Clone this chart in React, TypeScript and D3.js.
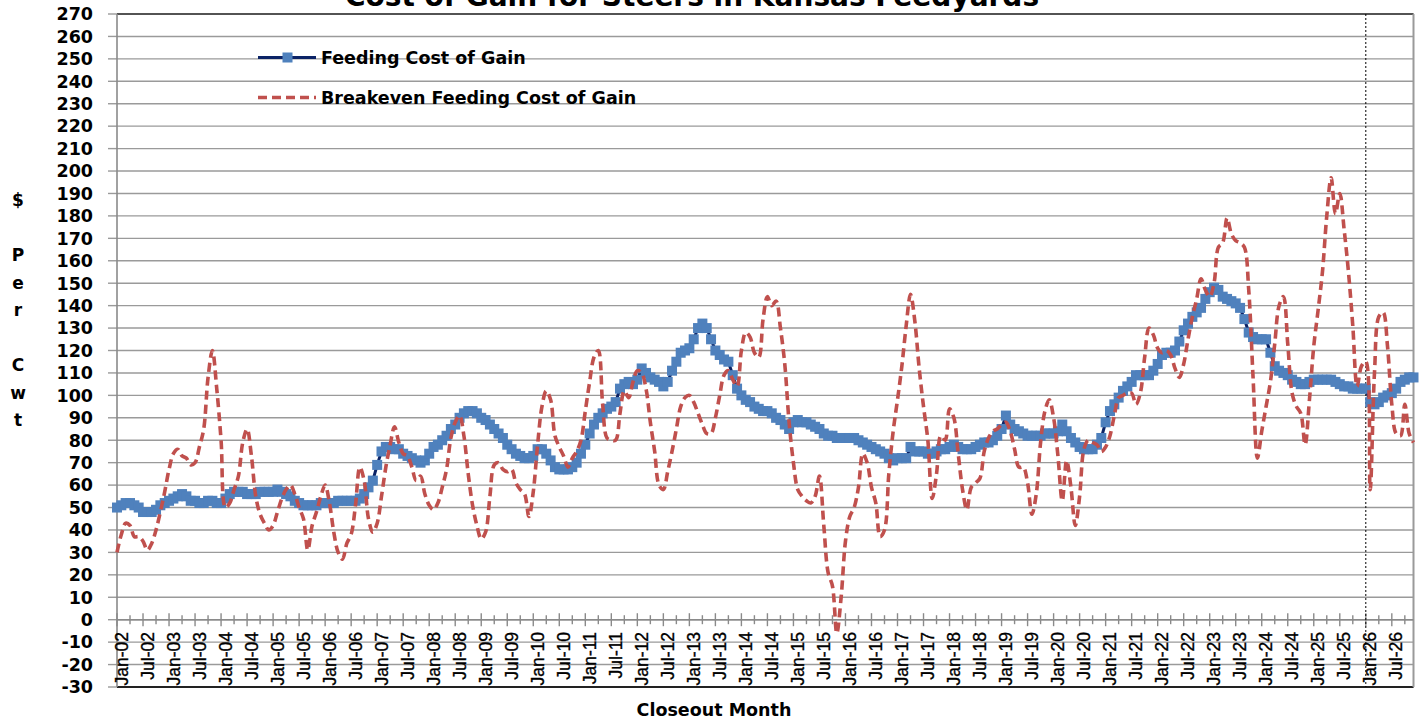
import React from "react";
import * as d3 from "d3";

// Monthly values, Jan-02 .. Dec-26 (one row per year)
const YEARS = [2002, 2003, 2004, 2005, 2006, 2007, 2008, 2009, 2010, 2011, 2012, 2013, 2014, 2015, 2016, 2017, 2018, 2019, 2020, 2021, 2022, 2023, 2024, 2025, 2026];

const FEEDING_COST: number[][] = [
  [50, 51, 52, 52, 51, 50, 48, 48, 48, 49, 51, 52],
  [53, 54, 55, 56, 55, 53, 53, 52, 52, 53, 53, 52],
  [52, 54, 56, 57, 57, 57, 56, 56, 56, 57, 57, 57],
  [57, 58, 57, 56, 55, 53, 52, 51, 51, 51, 51, 52],
  [52, 52, 52, 53, 53, 53, 53, 53, 54, 56, 59, 62],
  [69, 75, 77, 77, 76, 76, 74, 73, 72, 71, 70, 71],
  [74, 77, 78, 80, 82, 85, 87, 90, 92, 93, 93, 92],
  [90, 89, 87, 85, 83, 81, 78, 76, 74, 73, 72, 72],
  [73, 76, 76, 74, 71, 68, 67, 67, 67, 68, 70, 74],
  [78, 83, 87, 90, 92, 94, 95, 97, 103, 105, 106, 105],
  [107, 112, 110, 108, 107, 106, 104, 106, 111, 115, 119, 120],
  [121, 125, 130, 132, 130, 125, 120, 118, 116, 115, 109, 103],
  [100, 98, 97, 95, 94, 93, 93, 92, 90, 89, 87, 85],
  [88, 89, 88, 88, 87, 86, 85, 83, 82, 82, 81, 81],
  [81, 81, 81, 80, 79, 78, 77, 76, 75, 74, 72, 71],
  [72, 72, 72, 77, 75, 75, 75, 74, 74, 75, 76, 76],
  [77, 78, 77, 76, 76, 76, 77, 78, 79, 79, 80, 82],
  [85, 91, 87, 85, 84, 83, 82, 82, 82, 82, 83, 83],
  [83, 84, 87, 84, 81, 79, 77, 76, 76, 76, 78, 81],
  [88, 93, 96, 99, 102, 104, 106, 109, 109, 109, 109, 111],
  [114, 118, 119, 119, 120, 124, 129, 132, 135, 137, 139, 143],
  [146, 148, 147, 144, 143, 142, 141, 139, 134, 128, 126, 125],
  [125, 125, 119, 113, 111, 110, 109, 107, 106, 105, 105, 106],
  [107, 107, 107, 107, 107, 106, 105, 104, 104, 103, 103, 103],
  [103, 97, 96, 97, 99, 100, 101, 103, 106, 107, 108, 108],
];

const BREAKEVEN_COST: number[][] = [
  [30, 38, 43, 42, 37, 37, 35, 31, 34, 40, 48, 57],
  [67, 74, 76, 73, 72, 69, 70, 77, 85, 108, 120, 103],
  [80, 50, 52, 58, 64, 79, 85, 73, 55, 47, 43, 40],
  [42, 48, 54, 58, 60, 56, 50, 45, 31, 42, 48, 55],
  [60, 52, 39, 30, 27, 34, 38, 51, 68, 62, 45, 39],
  [43, 55, 68, 78, 86, 79, 74, 73, 68, 62, 64, 56],
  [51, 49, 52, 59, 67, 81, 88, 91, 82, 65, 51, 42],
  [36, 39, 55, 69, 70, 67, 66, 67, 61, 58, 56, 46],
  [57, 78, 95, 102, 98, 82, 77, 73, 68, 72, 75, 80],
  [93, 106, 117, 120, 96, 81, 80, 80, 92, 102, 99, 106],
  [111, 110, 103, 88, 75, 60, 58, 66, 75, 85, 95, 99],
  [100, 97, 92, 87, 83, 83, 90, 100, 109, 111, 107, 104],
  [120, 128, 126, 119, 117, 134, 144, 140, 142, 130, 114, 88],
  [70, 58, 55, 53, 52, 55, 64, 42, 21, 15, -6, 10],
  [35, 46, 50, 59, 74, 70, 59, 52, 37, 40, 65, 84],
  [98, 113, 131, 145, 133, 112, 95, 80, 54, 65, 82, 80],
  [94, 90, 74, 58, 49, 59, 61, 63, 75, 81, 84, 85],
  [87, 88, 84, 76, 68, 68, 61, 47, 56, 79, 93, 98],
  [90, 73, 53, 71, 59, 42, 55, 76, 80, 79, 78, 75],
  [77, 82, 91, 99, 100, 101, 101, 96, 101, 117, 130, 127],
  [121, 119, 120, 118, 112, 108, 114, 125, 135, 143, 152, 147],
  [144, 150, 166, 168, 179, 172, 169, 168, 166, 147, 108, 72],
  [84, 95, 106, 123, 140, 144, 123, 101, 95, 92, 78, 98],
  [122, 138, 155, 180, 197, 181, 190, 174, 155, 131, 104, 113],
  [115, 58, 110, 135, 137, 122, 96, 83, 82, 96, 83, 79],
];

const X_TICK_LABELS = [
  "Jan-02", "Jul-02", "Jan-03", "Jul-03", "Jan-04", "Jul-04", "Jan-05", "Jul-05",
  "Jan-06", "Jul-06", "Jan-07", "Jul-07", "Jan-08", "Jul-08", "Jan-09", "Jul-09",
  "Jan-10", "Jul-10", "Jan-11", "Jul-11", "Jan-12", "Jul-12", "Jan-13", "Jul-13",
  "Jan-14", "Jul-14", "Jan-15", "Jul-15", "Jan-16", "Jul-16", "Jan-17", "Jul-17",
  "Jan-18", "Jul-18", "Jan-19", "Jul-19", "Jan-20", "Jul-20", "Jan-21", "Jul-21",
  "Jan-22", "Jul-22", "Jan-23", "Jul-23", "Jan-24", "Jul-24", "Jan-25", "Jul-25",
  "Jan-26", "Jul-26",
];

const Y_TICKS = [-30, -20, -10, 0, 10, 20, 30, 40, 50, 60, 70, 80, 90, 100, 110, 120, 130, 140, 150, 160, 170, 180, 190, 200, 210, 220, 230, 240, 250, 260, 270];

const Y_LABEL_LINES = ["$", "", "P", "e", "r", "", "C", "w", "t"];

const TITLE = "Cost of Gain for Steers in Kansas Feedyards";
const SERIES_NAMES = ["Feeding Cost of Gain", "Breakeven Feeding Cost of Gain"];
const X_TITLE = "Closeout Month";
const FORECAST_LABEL = "Jan-26";

export default function App() {
  const W = 1421;
  const H = 723;
  const left = 117;
  const right = 1413.5;
  const top = 14;
  const bottom = 687;

  const cost = FEEDING_COST.flat();
  const breakeven = BREAKEVEN_COST.flat();
  const n = YEARS.length * 12;

  const x = d3.scaleLinear().domain([0, n - 1]).range([left, right]);
  const y = d3.scaleLinear().domain([-30, 270]).range([bottom, top]);

  const blueLine = d3
    .line<number>()
    .x((_, i) => x(i))
    .y((d) => y(d));
  const redLine = d3
    .line<number>()
    .x((_, i) => x(i))
    .y((d) => y(d))
    .curve(d3.curveCatmullRom.alpha(0.5));

  const quarterTicks = d3.range(0, n, 3);
  const forecastIdx = X_TICK_LABELS.indexOf(FORECAST_LABEL) * 6;
  const y0 = y(0);

  const blue = "#4F81BD";
  const navy = "#0B2366";
  const red = "#C0504D";
  const grid = "#9a9a9a";
  const bold = "'DejaVu Sans', Verdana, sans-serif";
  const ms = 10;

  return (
    <svg
      width={W}
      height={H}
      style={{ position: "absolute", left: 0, top: 0, background: "#fff" }}
    >
      <rect x={0} y={0} width={W} height={H} fill="#fff" />

      {/* gridlines */}
      {Y_TICKS.map((t) => (
        <line key={"g" + t} x1={left} x2={right} y1={y(t)} y2={y(t)} stroke={grid} strokeWidth={1.4} />
      ))}
      {/* y axis ticks */}
      {Y_TICKS.map((t) => (
        <line key={"yt" + t} x1={left - 9} x2={left} y1={y(t)} y2={y(t)} stroke={grid} strokeWidth={1.4} />
      ))}
      {/* borders */}
      <line x1={left} x2={right} y1={y(270)} y2={y(270)} stroke="#333" strokeWidth={1.5} />
      <line x1={left} x2={right} y1={y(-30)} y2={y(-30)} stroke="#222" strokeWidth={2} />
      <line x1={right} x2={right} y1={top} y2={bottom} stroke={grid} strokeWidth={2} />
      <line x1={left} x2={left} y1={top} y2={bottom} stroke="#8a8a8a" strokeWidth={1.6} />

      {/* x axis at zero */}
      <line x1={left} x2={right} y1={y0} y2={y0} stroke="#8a8a8a" strokeWidth={1.6} />
      {quarterTicks.map((i) => {
        const major = i % 6 === 0;
        const h = major ? 6.5 : 4.5;
        return (
          <line key={"xt" + i} x1={x(i)} x2={x(i)} y1={y0 - h} y2={y0 + h} stroke="#8a8a8a" strokeWidth={1.4} />
        );
      })}

      {/* forecast divider */}
      <line
        x1={x(forecastIdx)}
        x2={x(forecastIdx)}
        y1={top}
        y2={bottom}
        stroke="#000"
        strokeWidth={1}
        strokeDasharray="2 2"
      />

      {/* Feeding cost of gain */}
      <path d={blueLine(cost) || ""} fill="none" stroke={navy} strokeWidth={3} />
      {cost.map((v, i) => (
        <rect key={"m" + i} x={x(i) - ms / 2} y={y(v) - ms / 2} width={ms} height={ms} fill={blue} />
      ))}

      {/* Breakeven */}
      <path
        d={redLine(breakeven) || ""}
        fill="none"
        stroke={red}
        strokeWidth={3.6}
        strokeDasharray="9 5"
      />

      {/* y tick labels */}
      {Y_TICKS.map((t) => (
        <text
          key={"yl" + t}
          x={93}
          y={y(t)}
          dy="0.36em"
          textAnchor="end"
          fontFamily={bold}
          fontWeight="bold"
          fontSize={17.5}
          fill="#000"
        >
          {t}
        </text>
      ))}

      {/* x tick labels */}
      {X_TICK_LABELS.map((lab, k) => {
        const xi = x(k * 6) + 10.5;
        const yi = 632;
        return (
          <text
            key={"xl" + k}
            x={xi}
            y={yi}
            transform={`rotate(-90 ${xi} ${yi})`}
            textAnchor="end"
            fontFamily="'Liberation Sans', Arial, sans-serif"
            fontSize={17.5}
            stroke="#000"
            strokeWidth={0.35}
            fill="#000"
          >
            {lab}
          </text>
        );
      })}

      {/* y axis label */}
      {Y_LABEL_LINES.map((c, k) => (
        <text
          key={"yy" + k}
          x={18}
          y={200 + k * 27.5}
          dy="0.36em"
          textAnchor="middle"
          fontFamily={bold}
          fontWeight="bold"
          fontSize={17}
          fill="#000"
        >
          {c}
        </text>
      ))}

      {/* titles */}
      <text x={692} y={6} textAnchor="middle" fontFamily={bold} fontWeight="bold" fontSize={28} fill="#000">
        {TITLE}
      </text>
      <text x={714} y={716} textAnchor="middle" fontFamily={bold} fontWeight="bold" fontSize={17.5} fill="#000">
        {X_TITLE}
      </text>

      {/* legend */}
      <line x1={258} x2={316} y1={57.5} y2={57.5} stroke={navy} strokeWidth={3} />
      <rect x={282.5} y={52.5} width={10} height={10} fill={blue} />
      <text x={321} y={57.5} dy="0.36em" fontFamily={bold} fontWeight="bold" fontSize={17.5} fill="#000">
        {SERIES_NAMES[0]}
      </text>
      <line x1={258} x2={316} y1={97.5} y2={97.5} stroke={red} strokeWidth={3.6} strokeDasharray="9 5" />
      <text x={321} y={97.5} dy="0.36em" fontFamily={bold} fontWeight="bold" fontSize={17.5} fill="#000">
        {SERIES_NAMES[1]}
      </text>
    </svg>
  );
}
